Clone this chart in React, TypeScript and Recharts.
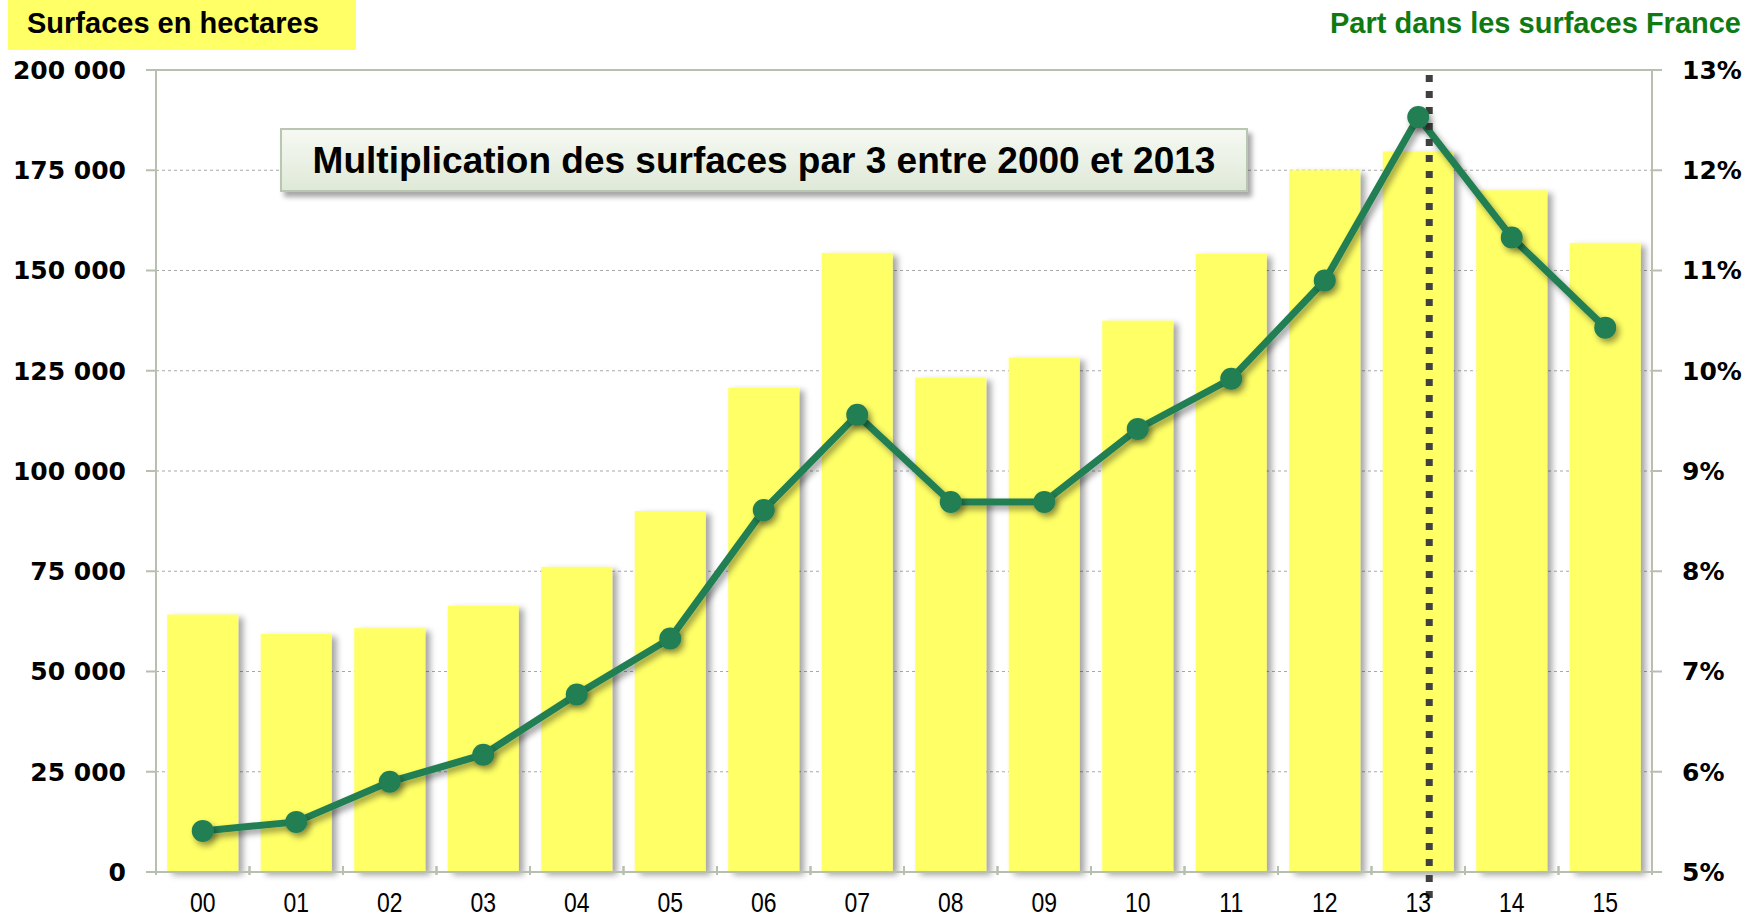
import React from "react";
import {
  ComposedChart,
  Bar,
  Line,
  XAxis,
  YAxis,
  CartesianGrid,
  ReferenceLine,
} from "recharts";

// Years (2000 - 2015) shown as two digits
const years = ["00", "01", "02", "03", "04", "05", "06", "07", "08", "09", "10", "11", "12", "13", "14", "15"];

// Surfaces in hectares (bars, left axis)
const surfaces = [64200, 59400, 60800, 66400, 76100, 90000, 120800, 154400, 123300, 128300, 137500, 154200, 175000, 179700, 170000, 156900];

// Share of France surfaces in % (line, right axis)
const partFrance = [5.41, 5.5, 5.9, 6.17, 6.77, 7.33, 8.61, 9.56, 8.69, 8.69, 9.42, 9.92, 10.9, 12.53, 11.33, 10.43];

const leftTicks = [0, 25000, 50000, 75000, 100000, 125000, 150000, 175000, 200000];
const rightTicks = [5, 6, 7, 8, 9, 10, 11, 12, 13];

const data = years.map((year, i) => ({
  year,
  surface: surfaces[i],
  part: partFrance[i],
}));

const W = 1747;
const H = 920;
const PLOT_LEFT = 156;
const PLOT_RIGHT = 1652;
const BAND = (PLOT_RIGHT - PLOT_LEFT) / years.length;
const AXIS_COLOR = "#b7bfae";
const GREEN = "#237f52";

const tickFont = {
  fontFamily: "'DejaVu Sans', sans-serif",
  fontWeight: 700,
  fontSize: 25,
  fill: "#000",
};

const formatSurface = (v: number) => (v === 0 ? "0" : `${Math.round(v / 1000)} 000`);

const XTick = (props: any) => {
  const { x, y, payload } = props;
  return (
    <g>
      <line x1={x - BAND / 2} y1={y - 14} x2={x - BAND / 2} y2={y - 5} stroke={AXIS_COLOR} strokeWidth={2} />
      <line x1={x + BAND / 2} y1={y - 14} x2={x + BAND / 2} y2={y - 5} stroke={AXIS_COLOR} strokeWidth={2} />
      <text
        transform={`translate(${x}, ${y + 32}) scale(0.82, 1)`}
        textAnchor="middle"
        fontFamily="'Liberation Sans', Arial, sans-serif"
        fontSize={28}
        fill="#000"
      >
        {payload.value}
      </text>
    </g>
  );
};

const BarShape = (props: any) => {
  const { x, y, width, height } = props;
  if (!height || height <= 0) return null;
  return <rect x={x} y={y} width={width} height={height} fill="#ffff66" filter="url(#barShadow)" />;
};

const Dot = (props: any) => {
  const { cx, cy } = props;
  if (cx == null || cy == null) return null;
  return <circle cx={cx} cy={cy} r={11} fill={GREEN} filter="url(#dotShadow)" />;
};

const MarkerLine = (props: any) => {
  const { x1, y1, y2 } = props;
  if (x1 == null) return null;
  const top = Math.min(y1, y2);
  const bottom = Math.max(y1, y2);
  return (
    <line
      x1={x1 + 11}
      x2={x1 + 11}
      y1={top + 5}
      y2={bottom + 26}
      stroke="#404040"
      strokeWidth={7}
      strokeDasharray="7 9"
    />
  );
};

export default function App() {
  return (
    <div style={{ position: "absolute", left: 0, top: 0, width: W, height: H, background: "#fff", fontFamily: "'Liberation Sans', Arial, sans-serif" }}>
      <svg width={0} height={0} style={{ position: "absolute" }}>
        <defs>
          <filter id="barShadow" x="-20%" y="-5%" width="150%" height="115%">
            <feDropShadow dx={5} dy={3} stdDeviation={3} floodColor="#000" floodOpacity={0.35} />
          </filter>
          <filter id="lineShadow" x="-5%" y="-10%" width="110%" height="130%">
            <feDropShadow dx={3} dy={4} stdDeviation={3} floodColor="#000" floodOpacity={0.4} />
          </filter>
          <filter id="dotShadow" x="-50%" y="-50%" width="200%" height="200%">
            <feDropShadow dx={3} dy={4} stdDeviation={3} floodColor="#000" floodOpacity={0.4} />
          </filter>
        </defs>
      </svg>

      <ComposedChart
        width={W}
        height={H}
        data={data}
        margin={{ top: 70, right: 0, bottom: 0, left: 0 }}
        barCategoryGap="12%"
      >
        <CartesianGrid
          horizontal={true}
          vertical={false}
          stroke="#a8a8a8"
          strokeDasharray="3 3"
          yAxisId="left"
        />
        <XAxis
          dataKey="year"
          height={48}
          tickLine={false}
          axisLine={{ stroke: AXIS_COLOR, strokeWidth: 2 }}
          tick={<XTick />}
          interval={0}
        />
        <YAxis
          yAxisId="left"
          orientation="left"
          width={156}
          domain={[0, 200000]}
          ticks={leftTicks}
          tickFormatter={formatSurface}
          tick={tickFont}
          tickSize={10}
          tickMargin={20}
          tickLine={{ stroke: AXIS_COLOR, strokeWidth: 2 }}
          axisLine={{ stroke: AXIS_COLOR, strokeWidth: 2 }}
          interval={0}
        />
        <YAxis
          yAxisId="right"
          orientation="right"
          width={95}
          domain={[5, 13]}
          ticks={rightTicks}
          tickFormatter={(v: number) => `${v}%`}
          tick={{ ...tickFont, textAnchor: "start" }}
          tickSize={10}
          tickMargin={20}
          tickLine={{ stroke: AXIS_COLOR, strokeWidth: 2 }}
          axisLine={{ stroke: AXIS_COLOR, strokeWidth: 2 }}
          interval={0}
        />
        <ReferenceLine yAxisId="left" y={200000} stroke={AXIS_COLOR} strokeWidth={2} />
        <Bar
          yAxisId="left"
          dataKey="surface"
          shape={<BarShape />}
          isAnimationActive={false}
        />
        <Line
          yAxisId="right"
          dataKey="part"
          type="linear"
          stroke={GREEN}
          strokeWidth={7}
          filter="url(#lineShadow)"
          dot={<Dot />}
          activeDot={false}
          isAnimationActive={false}
        />
        <ReferenceLine yAxisId="left" x="13" shape={<MarkerLine />} />
      </ComposedChart>

      <div
        style={{
          position: "absolute",
          left: 8,
          top: 0,
          width: 348,
          height: 50,
          background: "#ffff66",
          boxSizing: "border-box",
          paddingLeft: 19,
          fontWeight: 700,
          fontSize: 29,
          lineHeight: "46px",
          color: "#000",
          whiteSpace: "nowrap",
        }}
      >
        Surfaces en hectares
      </div>

      <div
        style={{
          position: "absolute",
          right: 6,
          top: 0,
          fontWeight: 700,
          fontSize: 29,
          lineHeight: "46px",
          color: "#107a12",
          whiteSpace: "nowrap",
        }}
      >
        Part dans les surfaces France
      </div>

      <div
        style={{
          position: "absolute",
          left: 280,
          top: 128,
          width: 968,
          height: 64,
          boxSizing: "border-box",
          border: "2px solid #b9c6b2",
          background: "linear-gradient(to bottom, #f6f9f3 0%, #dfe9d8 100%)",
          boxShadow: "4px 5px 5px rgba(0,0,0,0.35)",
          textAlign: "center",
          fontWeight: 700,
          fontSize: 37,
          lineHeight: "62px",
          color: "#000",
          whiteSpace: "nowrap",
        }}
      >
        Multiplication des surfaces par 3 entre 2000 et 2013
      </div>
    </div>
  );
}
